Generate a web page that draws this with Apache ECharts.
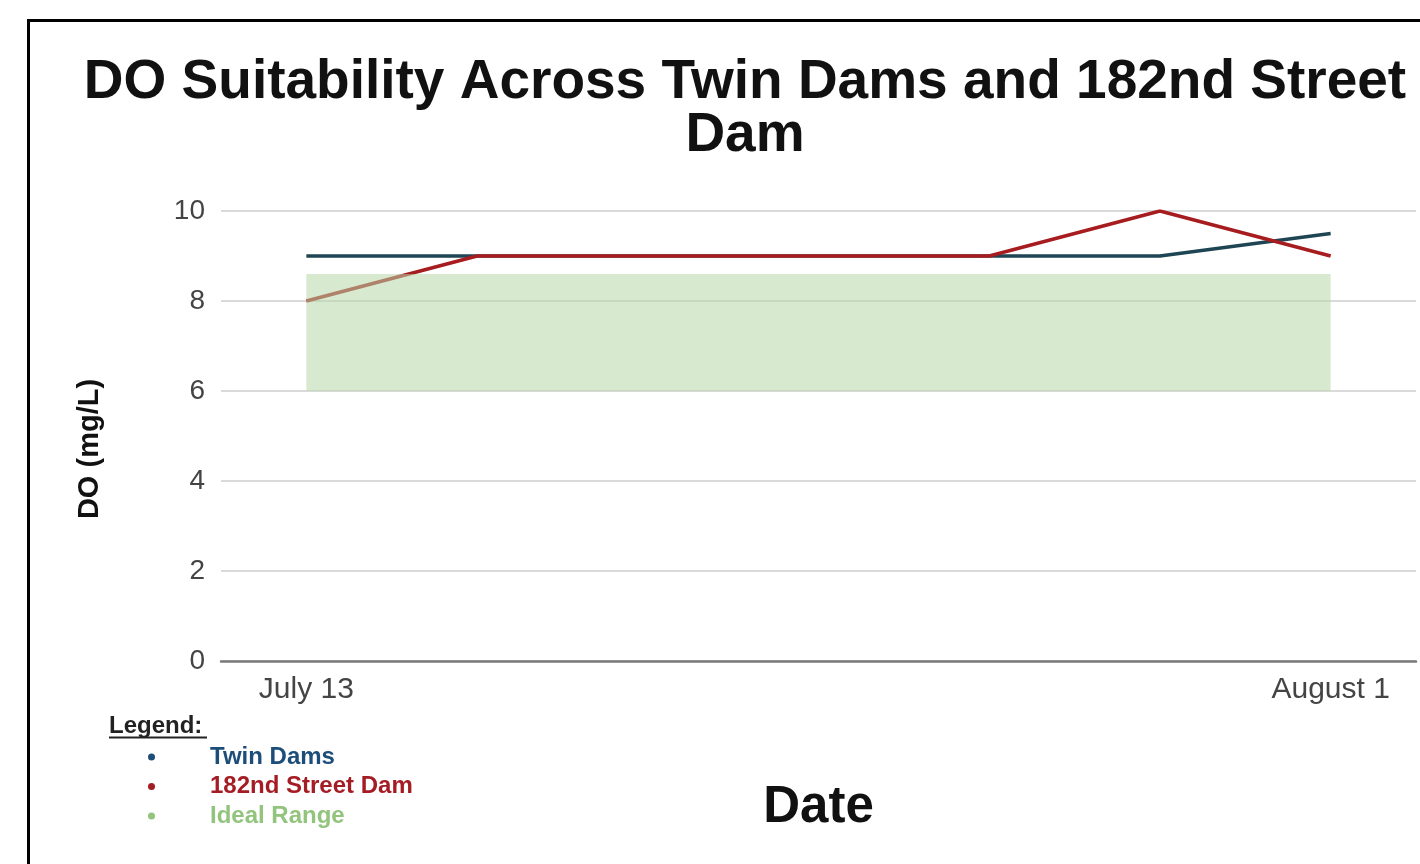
<!DOCTYPE html>
<html>
<head>
<meta charset="utf-8">
<title>DO Suitability Across Twin Dams and 182nd Street Dam</title>
<script src="https://cdn.jsdelivr.net/npm/echarts@6/dist/echarts.min.js"></script>
<style>
  html, body { margin: 0; padding: 0; background: #ffffff; }
  #chart { width: 1420px; height: 864px; }
</style>
</head>
<body>
<div id="chart"></div>
<script>
// Sampling dates (only the first and last are labelled on the axis)
const categories = ['July 13', 'July 16', 'July 19', 'July 22', 'July 25', 'July 28', 'August 1'];

// Dissolved oxygen readings, mg/L
const twinDams = [9, 9, 9, 9, 9, 9, 9.5];
const street182 = [8, 9, 9, 9, 9, 10, 9];

// Ideal DO band, mg/L [low, high]
const idealRange = [6, 8.6];

// Y-axis ticks
const yTicks = { min: 0, max: 10, step: 2 };

const seriesNames = ['Twin Dams', '182nd Street Dam', 'Ideal Range'];

const FONT = '"Liberation Sans", Arial, Helvetica, sans-serif';
const chart = echarts.init(document.getElementById('chart'), null, { renderer: 'canvas' });

const lastIdx = categories.length - 1;

const option = {
  backgroundColor: '#ffffff',
  animation: false,
  title: {
    text: 'DO Suitability Across Twin Dams and 182nd Street\nDam',
    left: 745,
    top: 56,
    padding: 0,
    textAlign: 'center',
    textStyle: {
      fontFamily: FONT,
      fontSize: 55,
      fontWeight: 'bold',
      color: '#111111',
      lineHeight: 53
    }
  },
  grid: {
    left: 221,
    right: 4,
    top: 211,
    bottom: 203,
    containLabel: false
  },
  legend: {
    orient: 'vertical',
    left: 148,
    top: 745,
    padding: 0,
    icon: 'circle',
    itemWidth: 7,
    itemHeight: 7,
    itemGap: 5.5,
    selectedMode: false,
    textStyle: {
      fontFamily: FONT,
      fontSize: 24,
      fontWeight: 'bold',
      lineHeight: 24,
      padding: [0, 0, 0, 50]
    },
    data: [
      { name: seriesNames[0], textStyle: { color: '#1d4e7a' } },
      { name: seriesNames[1], textStyle: { color: '#a51d24' } },
      { name: seriesNames[2], textStyle: { color: '#93c47d' } }
    ]
  },
  xAxis: {
    type: 'category',
    data: categories,
    boundaryGap: true,
    name: 'Date',
    nameLocation: 'middle',
    nameGap: 121,
    nameTextStyle: {
      fontFamily: FONT,
      fontSize: 51,
      fontWeight: 'bold',
      color: '#111111'
    },
    axisLine: { show: true, lineStyle: { color: '#7a7a7a', width: 2.5 } },
    axisTick: { show: false },
    axisLabel: {
      interval: function (i) { return i === 0 || i === lastIdx; },
      margin: 14,
      fontFamily: FONT,
      fontSize: 30,
      color: '#444444'
    },
    splitLine: { show: false }
  },
  yAxis: {
    type: 'value',
    min: yTicks.min,
    max: yTicks.max,
    interval: yTicks.step,
    name: 'DO (mg/L)',
    nameLocation: 'middle',
    nameGap: 117,
    nameRotate: 90,
    nameTextStyle: {
      fontFamily: FONT,
      fontSize: 29,
      fontWeight: 'bold',
      color: '#111111',
      padding: [0, 26, 0, 0]
    },
    axisLine: { show: false },
    axisTick: { show: false },
    axisLabel: {
      margin: 16,
      fontFamily: FONT,
      fontSize: 28,
      color: '#444444'
    },
    splitLine: { show: true, lineStyle: { color: '#dadada', width: 2 } }
  },
  graphic: [
    {
      type: 'rect',
      z: -10,
      silent: true,
      shape: { x: 28.5, y: 20.5, width: 1500, height: 1000 },
      style: { fill: 'none', stroke: '#000000', lineWidth: 3 }
    },
    {
      type: 'text',
      left: 109,
      top: 714,
      silent: true,
      style: {
        text: 'Legend:',
        font: 'bold 24px ' + FONT,
        fill: '#222222'
      }
    },
    {
      type: 'line',
      silent: true,
      shape: { x1: 109, y1: 737.5, x2: 207, y2: 737.5 },
      style: { stroke: '#222222', lineWidth: 2 }
    }
  ],
  series: [
    {
      name: seriesNames[0],
      type: 'line',
      data: twinDams,
      showSymbol: false,
      symbol: 'none',
      z: 2,
      itemStyle: { color: '#1d4e7a' },
      lineStyle: { color: '#1e4553', width: 3.5 }
    },
    {
      name: seriesNames[1],
      type: 'line',
      data: street182,
      showSymbol: false,
      symbol: 'none',
      z: 3,
      itemStyle: { color: '#a51d24' },
      lineStyle: { color: '#a61c1f', width: 3.5 }
    },
    {
      // Translucent band laid over the lines
      name: seriesNames[2],
      type: 'line',
      data: [],
      z: 4,
      itemStyle: { color: '#93c47d' },
      markArea: {
        silent: true,
        z: 5,
        itemStyle: { color: 'rgba(183, 215, 168, 0.55)', borderWidth: 0 },
        label: { show: false },
        data: [[
          { xAxis: categories[0], yAxis: idealRange[0] },
          { xAxis: categories[lastIdx], yAxis: idealRange[1] }
        ]]
      }
    }
  ]
};

chart.setOption(option);
</script>
</body>
</html>
